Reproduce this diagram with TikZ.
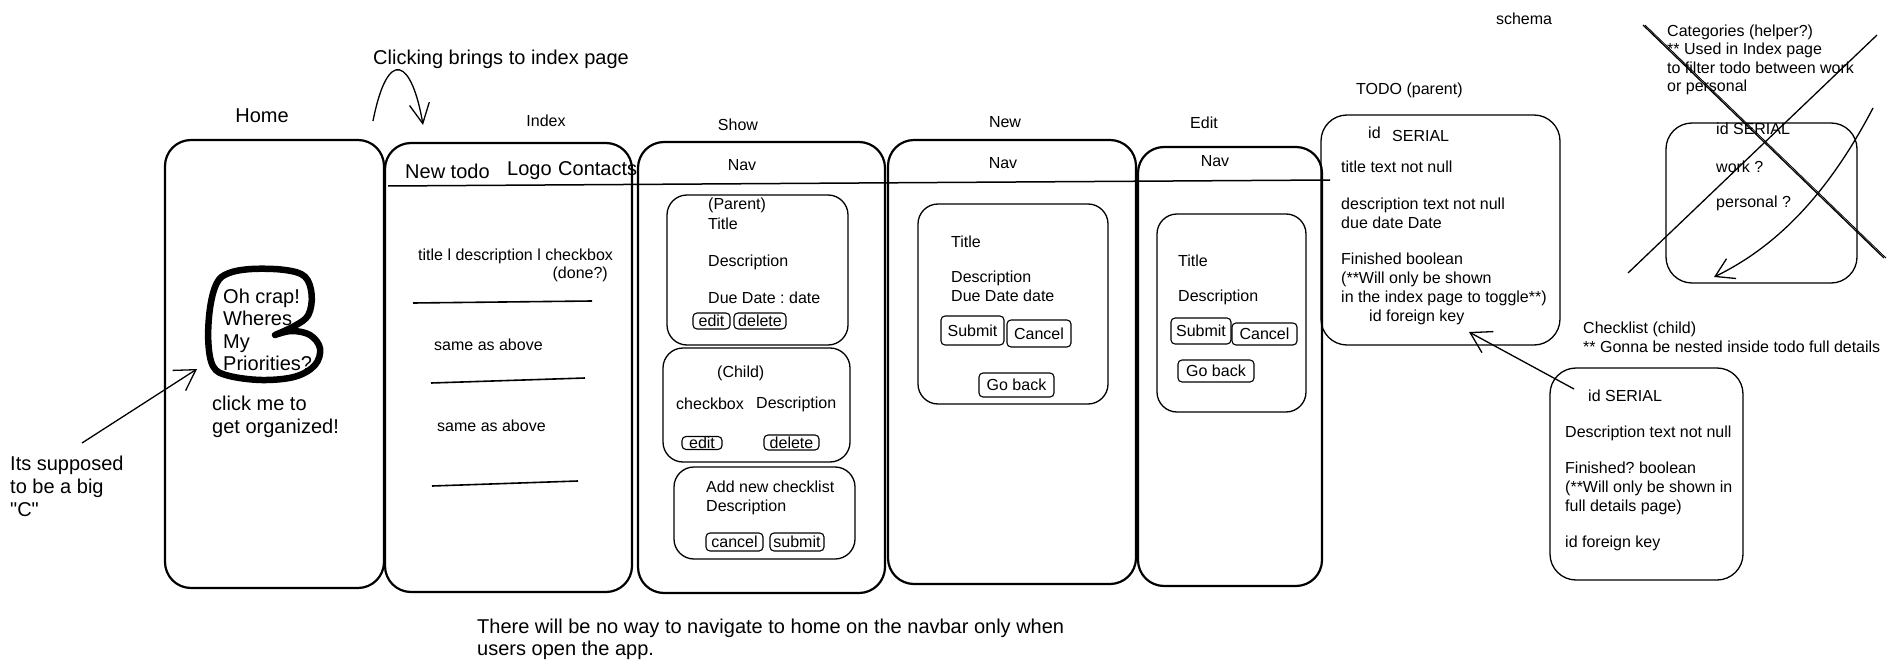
\documentclass[tikz,border=0pt]{standalone}
\usepackage{fontspec}
\setmainfont{Liberation Sans}[Ligatures=TeXOff]
\usetikzlibrary{arrows.meta}
\begin{document}
\frenchspacing
\tikzset{
  frame/.style={draw, line width=2.2pt, rounded corners=26pt},
  inbox/.style={draw, line width=1.3pt, rounded corners=20pt},
  btn/.style={draw, line width=1.1pt, rounded corners=4pt, inner sep=0pt, font=\fontsize{16}{19}\selectfont},
  big/.style={font=\fontsize{20}{23}\selectfont, inner sep=0pt, align=left},
  txt/.style={font=\fontsize{16}{19}\selectfont, inner sep=0pt, align=left},
  conn/.style={line width=1.3pt},
  barb/.style={-{Straight Barb[length=20pt,width=24pt]}},
  uline/.style={line width=1.6pt},
}
\begin{tikzpicture}[x=1pt,y=-1pt]
\fill[white] (0,0) rectangle (1895,671);
\useasboundingbox (0,0) rectangle (1895,671);

% ---------- Home ----------
\draw[frame] (165,140) rectangle (384,588);
\node[big] (homelbl) at (262,116) {Home};
\draw[line width=6.5pt, line cap=round, line join=round] plot[smooth, tension=0.6] coordinates {
 (275,335) (295,325.7) (308.3,315) (311.7,295) (305,276.7) (285,270) (251.7,269)
 (228.3,273.3) (216.7,283.3) (210,308.3) (208.3,341.7) (213.3,366.7) (228.3,375.7)
 (261.7,380) (295,376.7) (315,365) (320,348.3) (310,335) (291.7,331) (275,335)};
\node[big, anchor=north west] (crap) at (223,288.5) {Oh crap!\\[-0.5pt]Wheres\\[-0.5pt]My\\[-0.5pt]Priorities?};
\node[big, anchor=north west] (clickme) at (212,395.5) {click me to\\get organized!};
\node[big, anchor=north west] (its) at (10,455.5) {Its supposed\\to be a big\\"C"};
\coordinate (itsarr) at (82,443);
\coordinate (carr) at (197,369);
\draw[conn, barb] (itsarr) -- (carr);

% ---------- clicking arrow ----------
\node[big, anchor=west] (clicking) at (373,59) {Clicking brings to index page};
\coordinate (clk1) at (373,121);
\coordinate (clk2) at (423,125);
\draw[conn, -{Straight Barb[length=20pt,width=20pt]}] (clk1) .. controls (388,45) and (412,60) .. (clk2);

% ---------- Index ----------
\draw[frame] (385,143) rectangle (632,592);
\node[txt] (indexlbl) at (546,121) {Index};
\node[big, anchor=west] (newtodo) at (405,171) {New todo};
\node[big, anchor=west] (logo) at (507,171) {Logo};
\node[big, anchor=west] (contacts) at (558,169) {Contacts};
\coordinate (navA) at (388,186);
\coordinate (navB) at (1330,180);
\draw[line width=1.5pt] (navA) -- (navB);
\node[txt, anchor=west] (row1) at (418,256) {title l description l checkbox};
\node[txt, anchor=east] (done) at (608,274) {(done?)};
\draw[uline] (413,303) -- (592,301);
\node[txt, anchor=west] (row2) at (434,345) {same as above};
\draw[uline] (431,383) -- (585,378);
\node[txt, anchor=west] (row3) at (437,426) {same as above};
\draw[uline] (432,486) -- (578,481);

% ---------- Show ----------
\draw[frame] (638,142) rectangle (885,593);
\node[txt] (showlbl) at (738,125) {Show};
\node[txt] (shownav) at (742,165) {Nav};
\draw[inbox] (667,195) rectangle (848,345);
\node[txt, anchor=west] (parent) at (708,205) {(Parent)};
\node[txt, anchor=west] (ptitle) at (708,224) {Title};
\node[txt, anchor=west] (pdesc) at (708,262) {Description};
\node[txt, anchor=west] (pdue) at (708,298) {Due Date : date};
\node[btn, minimum width=37pt, minimum height=16pt] (pedit) at (711.5,321) {edit};
\node[btn, minimum width=52pt, minimum height=16pt] (pdel) at (760,321) {delete};
\draw[inbox] (663,348) rectangle (850,462);
\node[txt, anchor=west] (child) at (717,373) {(Child)};
\node[txt, anchor=west] (ccheck) at (676,404) {checkbox};
\node[txt, anchor=west] (cdesc) at (756,404) {Description};
\node[btn, minimum width=40pt, minimum height=13pt] (cedit) at (702,443) {edit};
\node[btn, minimum width=55pt, minimum height=15pt] (cdel) at (791.5,442.5) {delete};
\draw[inbox] (674,467) rectangle (855,559);
\node[txt, anchor=north west] (addnew) at (706,480.5) {Add new checklist\\Description};
\node[btn, minimum width=57pt, minimum height=18pt] (acancel) at (734.5,542) {cancel};
\node[btn, minimum width=54pt, minimum height=18pt] (asubmit) at (797,542) {submit};

% ---------- New ----------
\draw[frame] (888,140) rectangle (1136,584);
\node[txt] (newlbl) at (1005,122) {New};
\node[txt] (newnav) at (1003,163) {Nav};
\draw[inbox] (918,204) rectangle (1108,404);
\node[txt, anchor=west] (ntitle) at (951,242) {Title};
\node[txt, anchor=north west] (ndesc) at (951,270.5) {Description\\Due Date date};
\node[btn, minimum width=63pt, minimum height=29pt] (nsubmit) at (972.5,330.5) {Submit};
\node[btn, minimum width=64pt, minimum height=27pt] (ncancel) at (1039,333.5) {Cancel};
\node[btn, minimum width=75pt, minimum height=24pt] (ngoback) at (1016.5,385) {Go back};

% ---------- Edit ----------
\draw[frame] (1138,147) rectangle (1322,586);
\node[txt] (editlbl) at (1204,123) {Edit};
\node[txt] (editnav) at (1215,161) {Nav};
\draw[inbox] (1157,214) rectangle (1306,412);
\node[txt, anchor=west] (etitle) at (1178,261) {Title};
\node[txt, anchor=west] (edesc) at (1178,297) {Description};
\node[btn, minimum width=60pt, minimum height=26pt] (esubmit) at (1201,331) {Submit};
\node[btn, minimum width=65pt, minimum height=22pt] (ecancel) at (1264.5,334) {Cancel};
\node[btn, minimum width=76pt, minimum height=22pt] (egoback) at (1216,371) {Go back};

% ---------- TODO schema ----------
\node[txt] (schema) at (1524,19) {schema};
\node[txt, anchor=west] (todolbl) at (1356,90) {TODO (parent)};
\draw[inbox, rounded corners=26pt] (1321,115) rectangle (1560,345);
\node[txt, anchor=west] (tid) at (1368,133) {id};
\node[txt, anchor=west] (tserial) at (1392,136) {SERIAL};
\node[txt, anchor=west] (ttitle) at (1341,167) {title text not null};
\node[txt, anchor=north west] (tdesc) at (1341,197.5) {description text not null\\due date Date};
\node[txt, anchor=north west] (tfin) at (1341,252.5) {Finished boolean\\(**Will only be shown\\in the index page to toggle**)};
\node[txt, anchor=west] (tfk) at (1369,317) {id foreign key};

% ---------- Categories ----------
\node[txt, anchor=north west] (catlbl) at (1667,24.5) {Categories (helper?)\\[-0.5pt]** Used in Index page\\[-0.5pt]to filter todo between work\\[-0.5pt]or personal};
\draw[inbox, rounded corners=26pt] (1666,123) rectangle (1857,283);
\node[txt, anchor=west] (cid) at (1716,129) {id SERIAL};
\node[txt, anchor=west] (cwork) at (1716,167) {work ?};
\node[txt, anchor=west] (cpers) at (1716,203) {personal ?};
\coordinate (xa1) at (1643,25);
\coordinate (xa2) at (1884,258);
\coordinate (xb1) at (1877,35);
\coordinate (xb2) at (1628,273);
\draw[conn] (xa1) -- (xa2);
\draw[line width=0.8pt] ([xshift=2pt]xa1) -- ([xshift=2pt]xa2);
\draw[conn] (xb1) -- (xb2);
\coordinate (cq1) at (1873,108);
\coordinate (cq2) at (1714,277);
\draw[conn, -{Straight Barb[length=18pt,width=22pt]}] (cq1) .. controls (1830,190) and (1780,245) .. (cq2);

% ---------- Checklist ----------
\node[txt, anchor=north west] (cllbl) at (1583,321.5) {Checklist (child)\\** Gonna be nested inside todo full details};
\draw[inbox, rounded corners=26pt] (1550,368) rectangle (1743,580);
\node[txt, anchor=west] (clid) at (1588,396) {id SERIAL};
\node[txt, anchor=west] (cldesc) at (1565,433) {Description text not null};
\node[txt, anchor=north west] (clfin) at (1565,461.5) {Finished? boolean\\(**Will only be shown in\\full details page)};
\node[txt, anchor=west] (clfk) at (1565,543) {id foreign key};
\coordinate (fk1) at (1574,389);
\coordinate (fk2) at (1469,332);
\draw[conn, barb] (fk1) -- (fk2);

% ---------- bottom note ----------
\node[big, anchor=north west] (note) at (477,618.5) {There will be no way to navigate to home on the navbar only when\\[-1pt]users open the app.};
\end{tikzpicture}
\end{document}
